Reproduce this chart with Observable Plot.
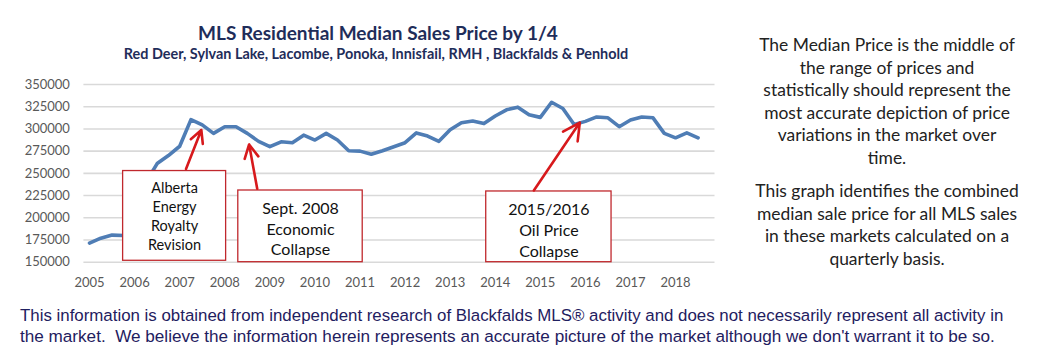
<!DOCTYPE html>
<html>
<head>
<meta charset="utf-8">
<script src="https://cdn.jsdelivr.net/npm/d3@7"></script>
<script src="https://cdn.jsdelivr.net/npm/@observablehq/plot@0.6"></script>
<style>
  html, body { margin: 0; padding: 0; background: #fff; }
  #page { position: relative; width: 1051px; height: 363px; overflow: hidden; background: #fff; }
  .abs { position: absolute; white-space: nowrap; }
  #title { left: 0; width: 756px; top: 21px; text-align: center; font-family: Lato, sans-serif; font-weight: 700; color: #1f2d5a; font-size: 18px; line-height: 24px; }
  #subtitle { left: 0; width: 752px; top: 45px; text-align: center; font-family: Lato, sans-serif; font-weight: 700; color: #1f2d5a; font-size: 12px; line-height: 18px; }
  .side { left: 727px; width: 320px; text-align: center; font-family: Lato, sans-serif; color: #222; font-size: 15.5px; line-height: 22.5px; }
  #p1 { top: 34px; }
  #p2 { top: 180px; }
  .foot { left: 20px; font-family: "Liberation Sans Narrow", "Arial Narrow", "Liberation Sans", sans-serif; color: #1f2060; font-size: 16.5px; line-height: 21px; }
  #f1 { top: 305px; }
  #f2 { top: 326px; }
  #chart { position: absolute; left: 0; top: 60px; }
</style>
</head>
<body>
<div id="page">
  <div id="title" class="abs"><span data-w="360">MLS Residential Median Sales Price by 1/4</span></div>
  <div id="subtitle" class="abs"><span data-w="505">Red Deer, Sylvan Lake, Lacombe, Ponoka, Innisfail, RMH , Blackfalds &amp; Penhold</span></div>
  <div id="p1" class="abs side"></div>
  <div id="p2" class="abs side"></div>
  <div id="f1" class="abs foot"><span data-w="984">This information is obtained from independent research of Blackfalds MLS® activity and does not necessarily represent all activity in</span></div>
  <div id="f2" class="abs foot"><span data-w="976">the market.&nbsp; We believe the information herein represents an accurate picture of the market although we don't warrant it to be so.</span></div>
  <div id="chart"></div>
</div>
<script>
// ---- Data ----
const startYear = 2005;
// Quarterly median sale price, 2005 Q1 .. 2018 Q3
const prices = [
  171500, 177000, 180500, 180000,
  205000, 240000, 261000, 270000,
  280500, 310500, 304500, 295000,
  302500, 302500, 295000, 286000,
  280000, 285500, 284500, 293000,
  287500, 295000, 287500, 275500,
  275000, 271500, 275500, 280000,
  284500, 295500, 292000, 286000,
  299000, 307000, 309000, 306000,
  314500, 321500, 324500, 316000,
  313000, 330000, 323000, 305000,
  308500, 313500, 312500, 302500,
  310000, 313500, 312500, 295000,
  290000, 295500, 290000
];
const yearTicks = [2005, 2006, 2007, 2008, 2009, 2010, 2011, 2012, 2013, 2014, 2015, 2016, 2017, 2018];
const priceTicks = [150000, 175000, 200000, 225000, 250000, 275000, 300000, 325000, 350000];

// Annotations (data coordinates: fractional year, price)
const boxLabels = ["Alberta\nEnergy\nRoyalty\nRevision", "Sept. 2008\nEconomic\nCollapse", "2015/2016\nOil Price\nCollapse"];
const boxX1 = [2005.745, 2008.30, 2013.80];
const boxX2 = [2008.03, 2011.06, 2016.58];
const boxYTop = [252600, 230700, 229600];
const boxYBottom = [151600, 150000, 150000];
const labelX = [2006.886, 2009.68, 2015.19];
const labelY = [202600, 188500, 187000];
const labelSize = [14.5, 16, 16];
const labelLH = [1.32, 1.3, 1.3];
const arrowFromX = [2007.14, 2008.72, 2014.856];
const arrowFromY = [254900, 232600, 230700];
const arrowToX = [2007.48, 2008.54, 2015.876];
const arrowToY = [298800, 282500, 307200];

const sideP1 = ["The Median Price is the middle of", "the range of prices and", "statistically should represent the", "most accurate depiction of price", "variations in the market over", "time."];
const sideP2 = ["This graph identifies the combined", "median sale price for all MLS sales", "in these markets calculated on a", "quarterly basis."];

// ---- Build tables ----
const series = prices.map((p, i) => ({t: startYear + i / 4, price: p}));
const boxes = boxLabels.map((s, i) => ({
  x1: boxX1[i], x2: boxX2[i], y1: boxYBottom[i], y2: boxYTop[i],
  lx: labelX[i], ly: labelY[i], text: s, size: labelSize[i], lh: labelLH[i],
  ax1: arrowFromX[i], ay1: arrowFromY[i], ax2: arrowToX[i], ay2: arrowToY[i]
}));

const font = "Lato, sans-serif";
const chart = Plot.plot({
  width: 720,
  height: 240,
  marginLeft: 83.4,
  marginRight: 5.5,
  marginTop: 24,
  marginBottom: 38.3,
  style: {fontFamily: font, background: "transparent", overflow: "visible"},
  x: {domain: [2004.875, 2018.875]},
  y: {domain: [150000, 350000]},
  marks: [
    Plot.gridY(priceTicks, {stroke: "#d9d9d9", strokeOpacity: 1, strokeWidth: 1.6}),
    Plot.axisY(priceTicks, {tickSize: 0, tickPadding: 14, tickFormat: d => String(d), fontSize: 13, fill: "#595959", label: null}),
    Plot.axisX(yearTicks, {tickSize: 0, tickPadding: 16, tickFormat: d => String(d), fontSize: 13, fill: "#595959", label: null}),
    Plot.line(series, {x: "t", y: "price", stroke: "#4f7db5", strokeWidth: 3.6, strokeLinejoin: "round", strokeLinecap: "round"}),
    Plot.rect(boxes, {x1: "x1", x2: "x2", y1: "y1", y2: "y2", fill: "white", stroke: "#c0282d", strokeWidth: 1.3}),
    Plot.arrow(boxes, {x1: "ax1", y1: "ay1", x2: "ax2", y2: "ay2", stroke: "#d7191c", strokeWidth: 2.6, headLength: 11, headAngle: 55}),
    ...boxes.map(b => Plot.text([b], {x: "lx", y: "ly", text: "text", fontSize: b.size, lineHeight: b.lh, fill: "#111", fontFamily: font, textAnchor: "middle", lineAnchor: "middle"}))
  ]
});
document.getElementById("chart").appendChild(chart);

// side paragraphs
function fillPara(id, lines) {
  const el = document.getElementById(id);
  el.innerHTML = lines.map(l => `<span>${l}</span>`).join("<br>");
}
fillPara("p1", sideP1);
fillPara("p2", sideP2);
const sideTarget = 256; // width of the first line
(function fitSide() {
  const s = document.querySelector("#p1 span");
  const w = s.getBoundingClientRect().width;
  const fs = 15.5 * sideTarget / w;
  document.querySelectorAll(".side").forEach(e => e.style.fontSize = fs + "px");
})();
// fit single lines to measured widths
document.querySelectorAll("span[data-w]").forEach(s => {
  const target = +s.dataset.w;
  const parent = s.parentElement;
  const fs = parseFloat(getComputedStyle(parent).fontSize);
  const w = s.getBoundingClientRect().width;
  parent.style.fontSize = (fs * target / w) + "px";
});
</script>
</body>
</html>
